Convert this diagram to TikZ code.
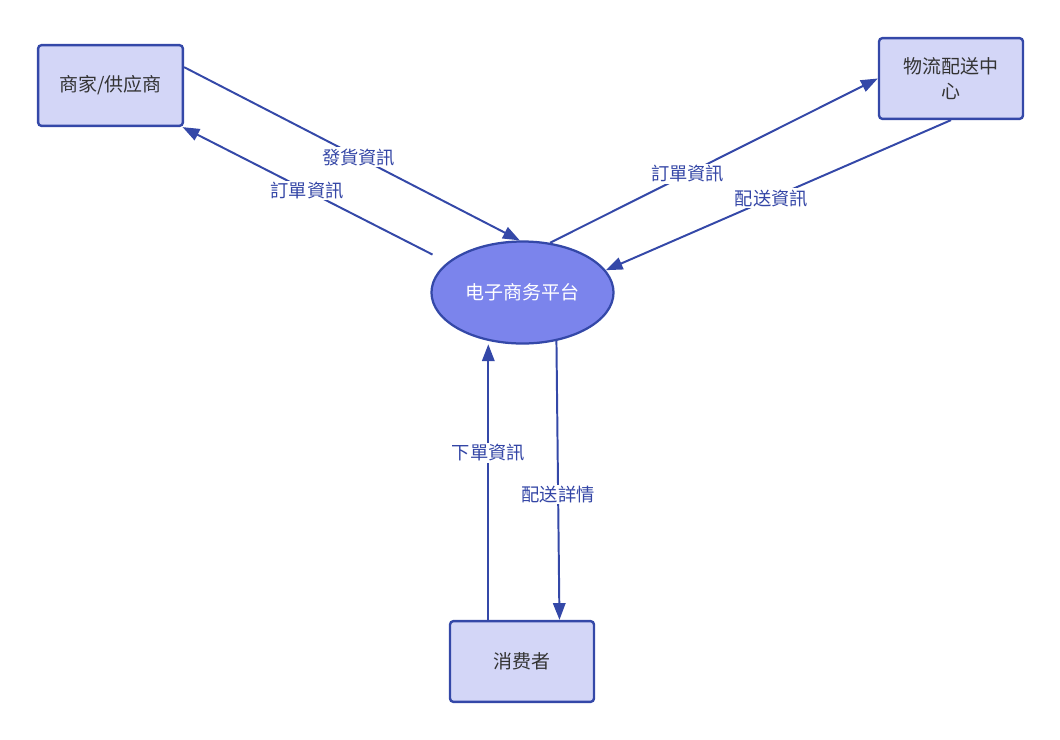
\documentclass[tikz,border=0pt]{standalone}
\usepackage{fontspec}
\newfontfamily\cjk{Noto Sans CJK SC}
\usetikzlibrary{arrows.meta,shapes.geometric}
\definecolor{edgeblue}{HTML}{3448A8}
\definecolor{boxfill}{HTML}{D3D6F7}
\definecolor{hubfill}{HTML}{7B84EC}
\definecolor{labelblue}{HTML}{3446A6}
\definecolor{textgray}{HTML}{333333}
\begin{document}
\begin{tikzpicture}[x=0.025cm,y=-0.025cm]
\tikzset{
  entity/.style={rectangle,rounded corners=2.5pt,draw=edgeblue,line width=1.7pt,fill=boxfill,
    minimum width=3.6cm,minimum height=2.02cm,text width=2.8cm,align=center,
    font=\cjk\fontsize{13.5}{18}\selectfont,text=textgray,inner sep=0pt},
  process/.style={ellipse,draw=edgeblue,line width=1.6pt,fill=hubfill,minimum width=4.55cm,
    minimum height=2.55cm,inner sep=0pt,font=\cjk\fontsize{13.5}{18}\selectfont,text=white},
  flow/.style={-{Triangle[length=4.2mm,width=3.1mm]},draw=edgeblue,line width=1.4pt},
  flowlabel/.style={fill=white,inner sep=1pt,font=\cjk\fontsize{13}{16}\selectfont,text=labelblue}
}
\useasboundingbox (0,0) rectangle (1060,739);
\node[entity,minimum width=3.62cm] (n_sup) at (110.5,85.5) {商家/供应商};
\node[entity] (n_log) at (951,78.5) {物流配送中\\心};
\node[entity] (n_cons) at (522,661.5) {消费者};
\node[process] (n_hub) at (522.5,292.5) {电子商务平台};
\draw[flow] (n_sup.14) -- node[flowlabel,pos=0.52] {發貨資訊} (n_hub.93);
\draw[flow,shorten <=12pt] (n_hub.158) -- node[flowlabel,pos=0.53] {訂單資訊} (n_sup.-30);
\draw[flow] (n_hub.61) -- node[flowlabel,pos=0.42] {訂單資訊} (n_log.west);
\draw[flow] (n_log.south) -- node[flowlabel,pos=0.52] {配送資訊} (n_hub.15);
\draw[flow,shorten >=2pt] (n_cons.129) -- node[flowlabel,pos=0.6] {下單資訊} (n_cons.129 |- n_hub.-123);
\draw[flow] (n_hub.-55) -- node[flowlabel,pos=0.55] {配送詳情} (n_cons.48);
\end{tikzpicture}
\end{document}
